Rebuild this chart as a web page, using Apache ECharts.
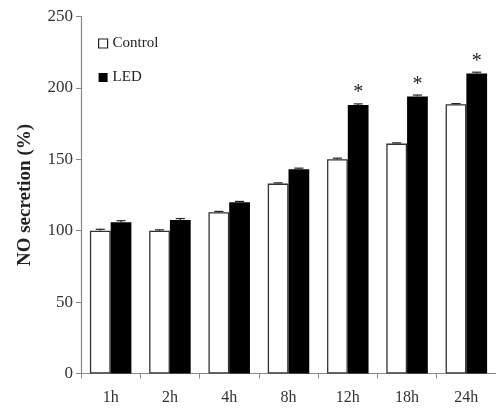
<!DOCTYPE html>
<html>
<head>
<meta charset="utf-8">
<script src="https://cdn.jsdelivr.net/npm/echarts@6/dist/echarts.min.js"></script>
<style>html,body{margin:0;padding:0;background:#fff;}#c{width:496px;height:411px;}</style>
</head>
<body>
<div id="c"></div>
<script>
var categories = ['1h', '2h', '4h', '8h', '12h', '18h', '24h'];
var control = [100, 100, 113, 133, 150, 161, 188.5];
var led = [106, 107.5, 120, 143, 188, 194, 210];
var controlErr = [1, 0.6, 0.5, 0.5, 0.8, 0.5, 0.5];
var ledErr = [1, 1, 0.5, 0.8, 0.8, 1, 1];
var significant = ['', '', '', '', '*', '*', '*'];
var yTicks = [0, 50, 100, 150, 200, 250];

var FONT = '"Liberation Serif", "DejaVu Serif", serif';
var chart = echarts.init(document.getElementById('c'));

function errSeries(vals, errs, side) {
  return {
    type: 'custom',
    silent: true,
    z: 5,
    data: vals.map(function (v, i) { return [i, v, errs[i]]; }),
    renderItem: function (params, api) {
      var i = api.value(0), v = api.value(1), e = api.value(2);
      var band = api.size([1, 0])[0];
      var bw = band * 0.35;
      var base = api.coord([i, v]);
      var cx = base[0] + side * bw / 2;
      var top = api.coord([i, v + e])[1];
      var cap = bw * 0.22;
      var st = { stroke: '#222', lineWidth: 1.2 };
      return {
        type: 'group',
        children: [
          { type: 'line', shape: { x1: cx, y1: base[1], x2: cx, y2: top }, style: st },
          { type: 'line', shape: { x1: cx - cap, y1: top, x2: cx + cap, y2: top }, style: st }
        ]
      };
    }
  };
}

chart.setOption({
  animation: false,
  backgroundColor: '#fff',
  grid: { left: 81, right: -5, top: 16.5, bottom: 37.5, containLabel: false },
  legend: {
    orient: 'vertical',
    left: 93,
    top: 31,
    itemWidth: 9,
    itemHeight: 9,
    itemGap: 19,
    icon: 'rect',
    textStyle: { fontFamily: FONT, fontSize: 15, color: '#222', padding: [0, 0, 0, 0] },
    data: [
      { name: 'Control', itemStyle: { color: '#fff', borderColor: '#222', borderWidth: 1.2 } },
      { name: 'LED', itemStyle: { color: '#000', borderColor: '#000', borderWidth: 0 } }
    ]
  },
  xAxis: {
    type: 'category',
    data: categories,
    axisLine: { lineStyle: { color: '#888', width: 1.2 } },
    axisTick: { show: true, length: 5, lineStyle: { color: '#888' } },
    axisLabel: { fontFamily: FONT, fontSize: 16, color: '#333', margin: 16 },
    splitLine: { show: false }
  },
  yAxis: {
    type: 'value',
    min: 0,
    max: 250,
    interval: 50,
    name: 'NO secretion (%)',
    nameLocation: 'middle',
    nameGap: 46,
    nameTextStyle: { fontFamily: FONT, fontSize: 19, fontWeight: 'bold', color: '#222' },
    axisLine: { show: true, lineStyle: { color: '#888', width: 1.2 } },
    axisTick: { show: true, length: 5, lineStyle: { color: '#888' } },
    axisLabel: {
      fontFamily: FONT, fontSize: 17, color: '#333', margin: 8,
      formatter: function (v) { return yTicks.indexOf(v) >= 0 ? String(v) : ''; }
    },
    splitLine: { show: false }
  },
  series: [
    {
      name: 'Control',
      type: 'bar',
      data: control,
      barGap: '0%',
      barCategoryGap: '30%',
      itemStyle: { color: '#fff', borderColor: '#333', borderWidth: 1.3 }
    },
    {
      name: 'LED',
      type: 'bar',
      data: led.map(function (v, i) {
        return {
          value: v,
          label: {
            show: significant[i] !== '',
            position: 'top',
            distance: 2,
            formatter: significant[i],
            fontFamily: FONT,
            fontSize: 20,
            color: '#222'
          }
        };
      }),
      barGap: '0%',
      barCategoryGap: '30%',
      itemStyle: { color: '#000', borderColor: '#000', borderWidth: 0 }
    },
    errSeries(control, controlErr, -1),
    errSeries(led, ledErr, 1)
  ]
});
</script>
</body>
</html>
